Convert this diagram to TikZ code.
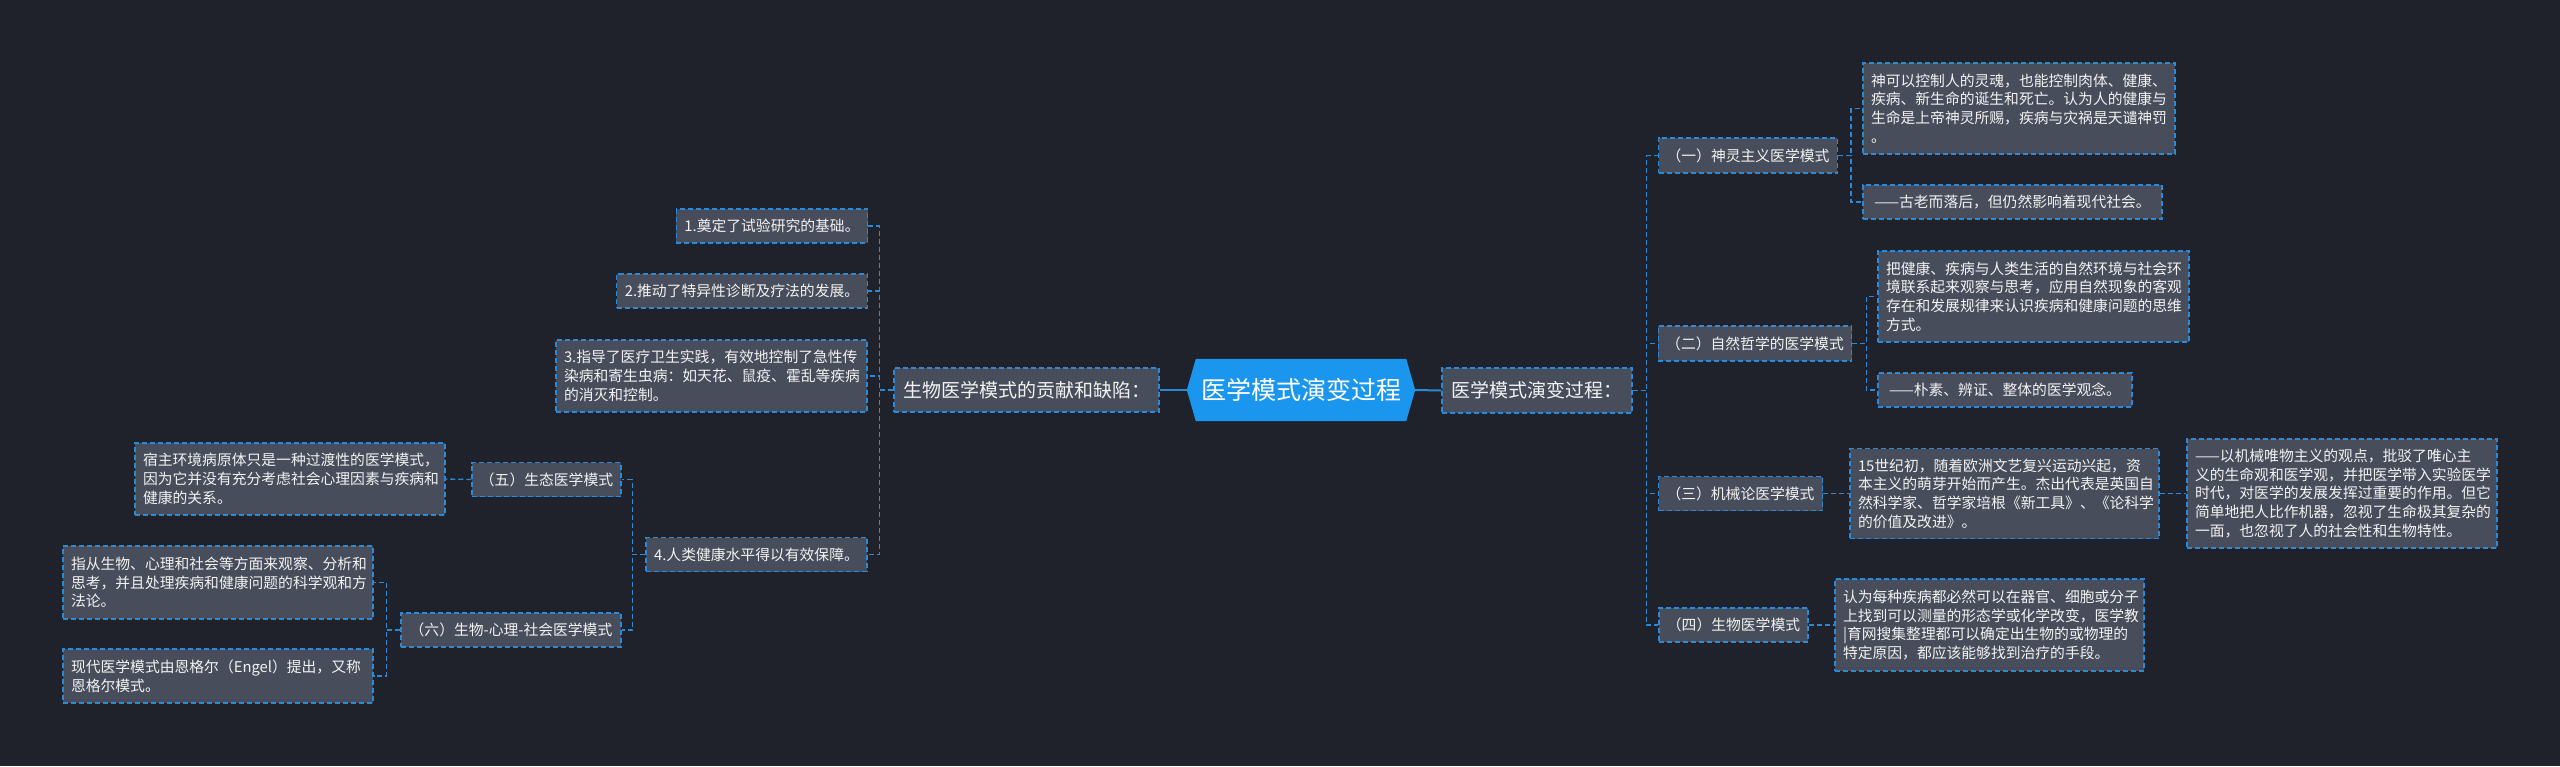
\documentclass[tikz,border=0pt]{standalone}
\usepackage{fontspec}
\setmainfont{Noto Sans CJK SC}
\definecolor{bgc}{HTML}{1F222B}
\definecolor{boxc}{HTML}{474D5B}
\definecolor{linec}{HTML}{2B8AD8}
\definecolor{rootc}{HTML}{1A96EF}
\definecolor{txtc}{HTML}{F2F2F2}
\tikzset{
  box/.style={draw=linec, line width=1.3pt, dash pattern=on 5pt off 3pt, fill=boxc, text=txtc,
    font=\fontsize{14.8pt}{18.7pt}\selectfont, inner xsep=8pt, inner ysep=8pt, align=center},
  multi/.style={align=left},
  lvl/.style={box, font=\fontsize{19pt}{23pt}\selectfont},
  conn/.style={draw=linec, line width=1.3pt, dash pattern=on 5pt off 3pt},
  rootconn/.style={draw=linec, line width=2pt},
}
\begin{document}
\begin{tikzpicture}[x=1pt,y=-1pt]
\fill[bgc] (0,0) rectangle (2560,766);
\useasboundingbox (0,0) rectangle (2560,766);
% root
\node[minimum width=228pt, minimum height=62pt, inner sep=0pt] (root) at (1301,390) {};
\fill[rootc] (root.west) -- ([xshift=9pt]root.north west) -- ([xshift=-9pt]root.north east) -- (root.east)
  -- ([xshift=-9pt]root.south east) -- ([xshift=9pt]root.south west) -- cycle;
\node[text=white, font=\fontsize{25pt}{30pt}\selectfont] (roottext) at (root.center) {医学模式演变过程};
% right side
\node[lvl, minimum width=190pt, minimum height=45pt] (r1) at (1537,390.5) {医学模式演变过程：};
\node[box, minimum width=178pt, minimum height=35pt] (a1) at (1748,155.5) {（一）神灵主义医学模式};
\node[box, multi, text width=296pt, minimum height=91pt] (a1c1) at (2019,108.5) {神可以控制人的灵魂，也能控制肉体、健康、\\疾病、新生命的诞生和死亡。认为人的健康与\\生命是上帝神灵所赐，疾病与灾祸是天谴神罚\\。};
\node[box, minimum width=299pt, minimum height=34pt] (a1c2) at (2012.5,202) {——古老而落后，但仍然影响着现代社会。};
\node[box, minimum width=192pt, minimum height=35pt] (a2) at (1755,343.5) {（二）自然哲学的医学模式};
\node[box, multi, text width=295pt, minimum height=91pt] (a2c1) at (2033.5,296.5) {把健康、疾病与人类生活的自然环境与社会环\\境联系起来观察与思考，应用自然现象的客观\\存在和发展规律来认识疾病和健康问题的思维\\方式。};
\node[box, minimum width=254pt, minimum height=34pt] (a2c2) at (2005,390) {——朴素、辨证、整体的医学观念。};
\node[box, minimum width=163pt, minimum height=34pt] (a3) at (1740.5,493.5) {（三）机械论医学模式};
\node[box, multi, text width=293pt, minimum height=90pt] (a3c1) at (2004.5,493.5) {15世纪初，随着欧洲文艺复兴运动兴起，资\\本主义的萌芽开始而产生。杰出代表是英国自\\然科学家、哲学家培根《新工具》、《论科学\\的价值及改进》。};
\node[box, multi, text width=294pt, minimum height=109pt] (a3c2) at (2342,493.5) {——以机械唯物主义的观点，批驳了唯心主\\义的生命观和医学观，并把医学带入实验医学\\时代，对医学的发展发挥过重要的作用。但它\\简单地把人比作机器，忽视了生命极其复杂的\\一面，也忽视了人的社会性和生物特性。};
\node[box, minimum width=149pt, minimum height=34pt] (a4) at (1733.5,625) {（四）生物医学模式};
\node[box, multi, text width=293pt, minimum height=92pt] (a4c1) at (1989.5,625) {认为每种疾病都必然可以在器官、细胞或分子\\上找到可以测量的形态学或化学改变，医学教\\|育网搜集整理都可以确定出生物的或物理的\\特定原因，都应该能够找到治疗的手段。};
% left side
\node[lvl, minimum width=265pt, minimum height=44pt] (l1) at (1026.5,390) {生物医学模式的贡献和缺陷：};
\node[box, minimum width=190pt, minimum height=34pt] (b1) at (772,226) {1.奠定了试验研究的基础。};
\node[box, minimum width=250pt, minimum height=34pt] (b2) at (742,291) {2.推动了特异性诊断及疗法的发展。};
\node[box, multi, text width=295pt, minimum height=72pt] (b3) at (711.5,376) {3.指导了医疗卫生实践，有效地控制了急性传\\染病和寄生虫病：如天花、鼠疫、霍乱等疾病\\的消灭和控制。};
\node[box, minimum width=219pt, minimum height=34pt] (b4) at (756.5,554.5) {4.人类健康水平得以有效保障。};
\node[box, minimum width=149pt, minimum height=34pt] (b5) at (546.5,479.5) {（五）生态医学模式};
\node[box, multi, text width=294pt, minimum height=72pt] (b5c1) at (290,479) {宿主环境病原体只是一种过渡性的医学模式，\\因为它并没有充分考虑社会心理因素与疾病和\\健康的关系。};
\node[box, minimum width=220pt, minimum height=34pt] (b6) at (511,630) {（六）生物-心理-社会医学模式};
\node[box, multi, text width=294pt, minimum height=73pt] (b6c1) at (218,582.5) {指从生物、心理和社会等方面来观察、分析和\\思考，并且处理疾病和健康问题的科学观和方\\法论。};
\node[box, multi, text width=294pt, minimum height=54pt] (b6c2) at (218,676) {现代医学模式由恩格尔（Engel）提出，又称\\恩格尔模式。};
% connectors
\draw[rootconn] (root.east) -- (r1.west);
\draw[rootconn] (root.west) -- (l1.east);
\foreach \c in {a1,a2,a3,a4} \draw[conn] (r1.east) -- ++(14,0) |- (\c.west);
\foreach \c in {a1c1,a1c2} \draw[conn] (a1.east) -- ++(13,0) |- (\c.west);
\foreach \c in {a2c1,a2c2} \draw[conn] (a2.east) -- ++(14,0) |- (\c.west);
\draw[conn] (a3.east) -- (a3c1.west);
\draw[conn] (a3c1.east) -- (a3c2.west);
\draw[conn] (a4.east) -- (a4c1.west);
\foreach \c in {b1,b2,b3,b4} \draw[conn] (l1.west) -- ++(-14,0) |- (\c.east);
\foreach \c in {b5,b6} \draw[conn] (b4.west) -- ++(-13,0) |- (\c.east);
\draw[conn] (b5.west) -- (b5c1.east);
\foreach \c in {b6c1,b6c2} \draw[conn] (b6.west) -- ++(-14,0) |- (\c.east);
\end{tikzpicture}
\end{document}
